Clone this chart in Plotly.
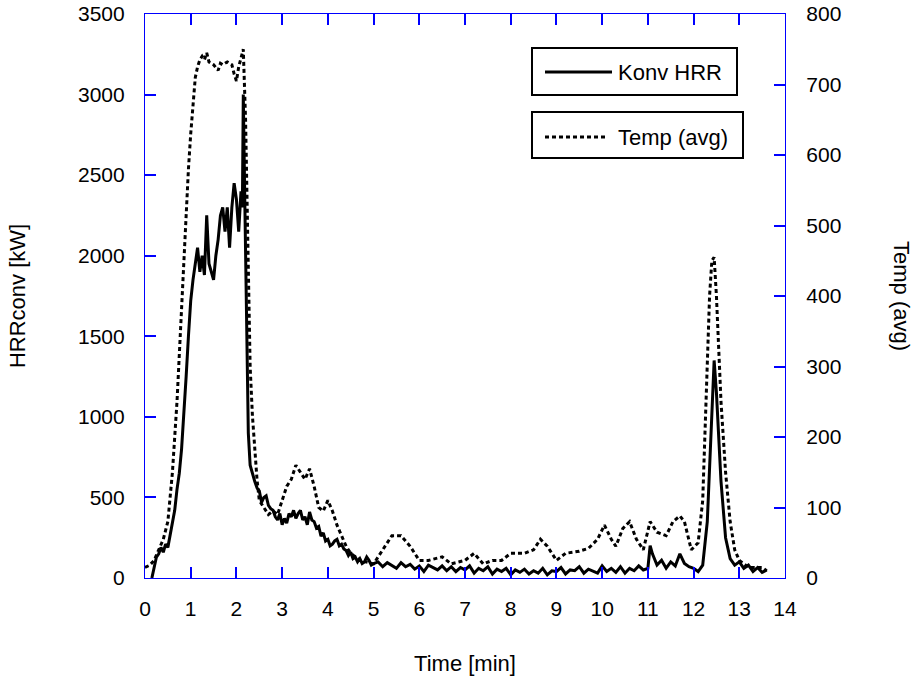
import plotly.graph_objects as go

# ---------------- data ----------------
hrr_time = [0.15, 0.2, 0.25, 0.3, 0.35, 0.4, 0.45, 0.5, 0.55, 0.6, 0.65, 0.7, 0.75, 0.8, 0.85, 0.9,
            0.95, 1.0, 1.05, 1.1, 1.15, 1.2, 1.25, 1.3, 1.35, 1.4, 1.45, 1.5, 1.55, 1.6, 1.65,
            1.7, 1.75, 1.8, 1.85, 1.9, 1.95, 2.0, 2.05, 2.1, 2.13, 2.15, 2.18, 2.22, 2.26, 2.3,
            2.35, 2.4, 2.45, 2.5, 2.55, 2.6, 2.65, 2.7, 2.75, 2.8, 2.85, 2.9, 2.95, 3.0, 3.05,
            3.1, 3.15, 3.2, 3.25, 3.3, 3.35, 3.4, 3.45, 3.5, 3.55, 3.6, 3.65, 3.7, 3.75, 3.8,
            3.85, 3.9, 3.95, 4.0, 4.05, 4.1, 4.15, 4.2, 4.25, 4.3, 4.35, 4.4, 4.45, 4.5, 4.55,
            4.6, 4.65, 4.7, 4.75, 4.8, 4.85, 4.9, 4.95,
            5.0, 5.1, 5.2, 5.3, 5.4, 5.5, 5.6, 5.7, 5.8, 5.9,
            6.0, 6.1, 6.2, 6.3, 6.4, 6.5, 6.6, 6.7, 6.8, 6.9,
            7.0, 7.1, 7.2, 7.3, 7.4, 7.5, 7.6, 7.7, 7.8, 7.9,
            8.0, 8.1, 8.2, 8.3, 8.4, 8.5, 8.6, 8.7, 8.8, 8.9,
            9.0, 9.1, 9.2, 9.3, 9.4, 9.5, 9.6, 9.7, 9.8, 9.9,
            10.0, 10.1, 10.2, 10.3, 10.4, 10.5, 10.6, 10.7, 10.8, 10.9,
            11.0, 11.05, 11.1, 11.2, 11.3, 11.4, 11.5, 11.6, 11.7, 11.8, 11.9,
            12.0, 12.1, 12.2, 12.3, 12.4, 12.45, 12.5, 12.55, 12.6, 12.7, 12.8, 12.9,
            13.0, 13.1, 13.2, 13.3, 13.4, 13.5, 13.6]
hrr_kw = [0, 60, 130, 150, 190, 160, 210, 190, 260, 350, 420, 550, 650, 800, 1000, 1250,
          1500, 1720, 1850, 1950, 2050, 1900, 2000, 1880, 2250, 1950, 1900, 1850, 2000, 2100, 2250,
          2300, 2150, 2300, 2050, 2300, 2450, 2350, 2150, 2400, 2300, 3000, 2400, 1500, 900, 700,
          640, 600, 560, 540, 470, 500, 510, 450, 430, 420, 380, 360, 400, 330, 370,
          340, 400, 380, 420, 370, 400, 420, 360, 380, 330, 410, 360, 350, 310, 320,
          260, 280, 230, 240, 200, 210, 230, 240, 200, 210, 180, 170, 140, 160, 120,
          130, 100, 120, 90, 100, 130, 110, 80,
          90, 100, 70, 95, 80, 60, 95, 70, 85, 55,
          75, 40, 80, 65, 50, 75, 45, 70, 40, 65,
          50, 75, 30, 60, 45, 70, 25, 55, 40, 60,
          20, 50, 35, 55, 25, 45, 30, 60, 20, 45,
          40, 65, 25, 50, 45, 70, 30, 55, 40, 30,
          75, 40, 60, 35, 70, 30, 60, 45, 75, 50,
          60, 200, 150, 80, 110, 60, 100, 75, 150, 90, 70,
          60, 40, 80, 350, 1000, 1350, 1150, 900, 600, 250, 120, 80,
          100, 60, 80, 40, 65, 35, 50]

temp_time = [0.0, 0.1, 0.2, 0.3, 0.4, 0.5, 0.6, 0.7, 0.8, 0.85, 0.9, 0.95, 1.0, 1.05, 1.1,
             1.15, 1.2, 1.25, 1.3, 1.35, 1.4, 1.5, 1.6, 1.65, 1.7, 1.8, 1.9, 1.95, 2.0, 2.05,
             2.1, 2.15, 2.2, 2.25, 2.3, 2.35, 2.4, 2.45, 2.5, 2.6, 2.7, 2.8, 2.9, 3.0, 3.1,
             3.2, 3.3, 3.4, 3.5, 3.6, 3.7, 3.8, 3.9, 4.0, 4.1, 4.2, 4.3, 4.4, 4.5, 4.7, 5.0,
             5.2, 5.4, 5.6, 5.8, 6.0, 6.2, 6.5, 6.7, 7.0, 7.2, 7.4, 7.6, 7.8, 8.0, 8.3, 8.5,
             8.65, 8.8, 9.0, 9.2, 9.5, 9.7, 9.9, 10.05, 10.2, 10.3, 10.45, 10.6, 10.75, 10.9,
             11.05, 11.2, 11.4, 11.55, 11.7, 11.8, 11.95, 12.1, 12.2, 12.3, 12.35, 12.4, 12.45,
             12.5, 12.6, 12.7, 12.8, 12.9, 13.0, 13.2, 13.5, 13.6]
temp_avg = [15, 18, 25, 40, 55, 80, 150, 250, 380, 460, 530, 580, 630, 670, 710,
            725, 735, 740, 735, 745, 732, 728, 720, 730, 728, 732, 728, 715, 705, 725,
            740, 750, 650, 450, 300, 230, 180, 140, 110, 100, 90, 95, 90, 110, 130,
            140, 160, 150, 140, 155, 130, 100, 95, 110, 95, 75, 60, 45, 35, 25, 20,
            40, 60, 60, 45, 25, 25, 30, 20, 25, 35, 20, 25, 25, 35, 35, 40,
            55, 45, 25, 35, 38, 42, 55, 75, 55, 45, 70, 80, 55, 40,
            80, 65, 60, 80, 88, 80, 40, 50, 110, 300, 400, 450, 455,
            400, 250, 150, 80, 40, 25, 15, 15, 10]

x_ticks = list(range(0, 15))
hrr_ticks = [0, 500, 1000, 1500, 2000, 2500, 3000, 3500]
temp_ticks = [0, 100, 200, 300, 400, 500, 600, 700, 800]

# ---------------- figure ----------------
FONT = "Liberation Sans, Arial, sans-serif"
BLUE = "#0000ff"
TICK_SIZE = 21
TEXT_SIZE = 22

fig = go.Figure()
fig.add_trace(go.Scatter(x=hrr_time, y=hrr_kw, mode="lines", name="Konv HRR",
                         line=dict(color="black", width=3), yaxis="y", showlegend=False))
fig.add_trace(go.Scatter(x=temp_time, y=temp_avg, mode="lines", name="Temp (avg)",
                         line=dict(color="black", width=3, dash="4px,3px"), yaxis="y2",
                         showlegend=False))

W, H = 918, 681
L, R, T, B = 145, 785, 14, 578   # pixel positions of the plot frame


def px(x):
    return (x - L) / (R - L)


def py(y):
    return (B - y) / (B - T)


shapes = []
annotations = []
# legend boxes
for (x0, x1, y0, y1) in [(532, 737, 48, 95), (532, 743, 112, 158)]:
    shapes.append(dict(type="rect", xref="paper", yref="paper", x0=px(x0), x1=px(x1),
                       y0=py(y1), y1=py(y0), line=dict(color="black", width=2),
                       fillcolor="white", layer="above"))
shapes.append(dict(type="line", xref="paper", yref="paper", x0=px(545), x1=px(612),
                   y0=py(72), y1=py(72), line=dict(color="black", width=3), layer="above"))
shapes.append(dict(type="line", xref="paper", yref="paper", x0=px(545), x1=px(608),
                   y0=py(137), y1=py(137), line=dict(color="black", width=3, dash="4px,3px"),
                   layer="above"))
annotations.append(dict(text="Konv HRR", xref="paper", yref="paper", x=px(616), y=py(72),
                        xanchor="left", yanchor="middle", showarrow=False,
                        font=dict(size=TEXT_SIZE, color="black", family=FONT)))
annotations.append(dict(text="Temp (avg)", xref="paper", yref="paper", x=px(616), y=py(137),
                        xanchor="left", yanchor="middle", showarrow=False,
                        font=dict(size=TEXT_SIZE, color="black", family=FONT)))
# right axis title (reads top-to-bottom)
annotations.append(dict(text="Temp (avg)", xref="paper", yref="paper", x=px(902), y=py(296),
                        xanchor="center", yanchor="middle", textangle=90, showarrow=False,
                        font=dict(size=TEXT_SIZE, color="black", family=FONT)))

fig.update_layout(
    width=W, height=H,
    margin=dict(l=L, r=W - R, t=T, b=H - B, autoexpand=False),
    paper_bgcolor="white", plot_bgcolor="white",
    font=dict(family=FONT, size=TICK_SIZE, color="black"),
    xaxis=dict(range=[0, 14], tickvals=x_ticks, ticks="inside", ticklen=11, tickwidth=1.5,
               tickcolor=BLUE, showline=True, linecolor=BLUE, linewidth=1.2, mirror="ticks",
               showgrid=False, zeroline=False, ticklabelstandoff=12, ticklabeloverflow="allow",
               title=dict(text="Time [min]", standoff=36, font=dict(size=TEXT_SIZE))),
    yaxis=dict(range=[0, 3500], tickvals=hrr_ticks, ticks="inside", ticklen=11, tickwidth=1.5,
               tickcolor=BLUE, showline=True, linecolor=BLUE, linewidth=1.2,
               showgrid=False, zeroline=False, ticklabelstandoff=15, ticklabeloverflow="allow",
               title=dict(text="HRRconv [kW]", standoff=46, font=dict(size=TEXT_SIZE))),
    yaxis2=dict(range=[0, 800], tickvals=temp_ticks, ticks="inside", ticklen=11, tickwidth=1.5,
                tickcolor=BLUE, showline=True, linecolor=BLUE, linewidth=1.2,
                overlaying="y", side="right", anchor="x",
                showgrid=False, zeroline=False, ticklabelstandoff=16, ticklabeloverflow="allow"),
    shapes=shapes,
    annotations=annotations,
)

# remove the default page margin so the 918x681 figure fills the window exactly
fig.write_html("out.html", config={"displayModeBar": False},
               post_script="document.body.style.margin='0';document.body.style.overflow='hidden';")
